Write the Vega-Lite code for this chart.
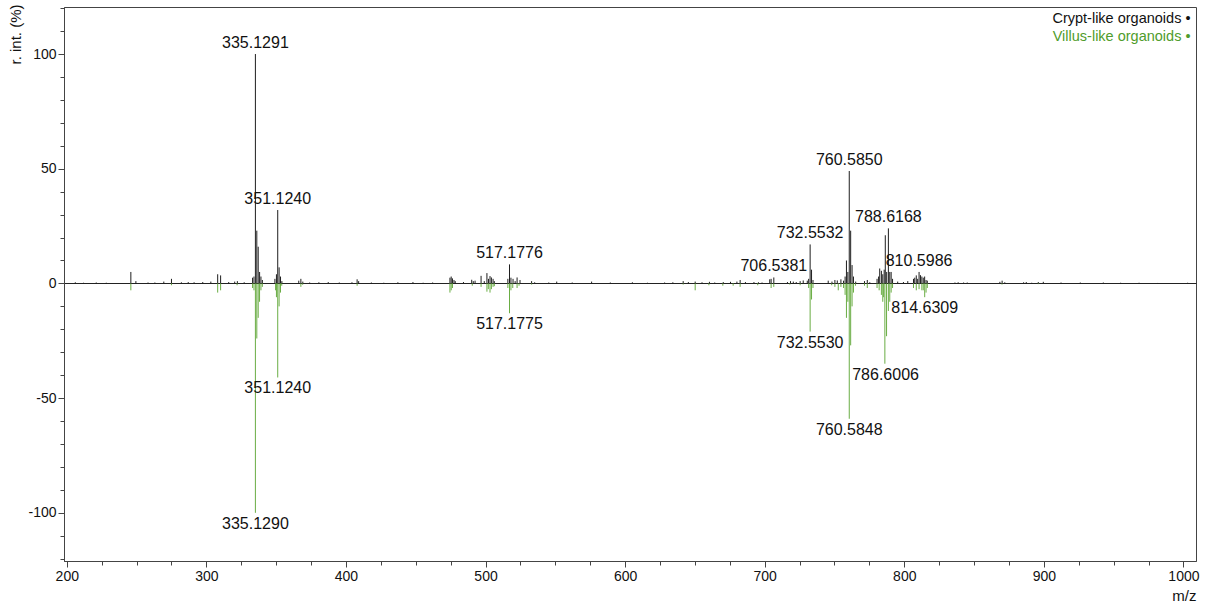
{
  "$schema": "https://vega.github.io/schema/vega-lite/v6.json",
  "autosize": {"type": "none"},
  "width": 1132,
  "height": 554,
  "padding": {"left": 64, "top": 7, "right": 10, "bottom": 45},
  "background": "white",
  "config": {
    "view": {"stroke": "#444444", "strokeWidth": 1},
    "font": "Liberation Sans",
    "axis": {
      "labelFont": "Liberation Sans",
      "titleFont": "Liberation Sans",
      "labelColor": "#111111",
      "titleColor": "#111111",
      "domainColor": "#444444",
      "tickColor": "#444444",
      "labelFontSize": 14,
      "titleFontSize": 15,
      "titleFontWeight": "normal"
    }
  },
  "datasets": {
    "peaks": [
      {"mz": 206.1, "intensity": 0.5, "series": "Crypt-like organoids"},
      {"mz": 212.0, "intensity": 0.3, "series": "Crypt-like organoids"},
      {"mz": 221.1, "intensity": 0.4, "series": "Crypt-like organoids"},
      {"mz": 228.3, "intensity": 0.3, "series": "Crypt-like organoids"},
      {"mz": 245.9, "intensity": 5.0, "series": "Crypt-like organoids"},
      {"mz": 249.5, "intensity": 1.0, "series": "Crypt-like organoids"},
      {"mz": 258.2, "intensity": 0.4, "series": "Crypt-like organoids"},
      {"mz": 263.1, "intensity": 0.4, "series": "Crypt-like organoids"},
      {"mz": 269.5, "intensity": 0.8, "series": "Crypt-like organoids"},
      {"mz": 275.0, "intensity": 2.0, "series": "Crypt-like organoids"},
      {"mz": 282.1, "intensity": 0.5, "series": "Crypt-like organoids"},
      {"mz": 287.0, "intensity": 0.6, "series": "Crypt-like organoids"},
      {"mz": 291.2, "intensity": 0.5, "series": "Crypt-like organoids"},
      {"mz": 297.4, "intensity": 0.6, "series": "Crypt-like organoids"},
      {"mz": 303.2, "intensity": 0.8, "series": "Crypt-like organoids"},
      {"mz": 308.1, "intensity": 4.0, "series": "Crypt-like organoids"},
      {"mz": 310.2, "intensity": 3.5, "series": "Crypt-like organoids"},
      {"mz": 316.0, "intensity": 0.6, "series": "Crypt-like organoids"},
      {"mz": 320.3, "intensity": 0.8, "series": "Crypt-like organoids"},
      {"mz": 322.2, "intensity": 1.0, "series": "Crypt-like organoids"},
      {"mz": 327.1, "intensity": 0.5, "series": "Crypt-like organoids"},
      {"mz": 333.1, "intensity": 2.5, "series": "Crypt-like organoids"},
      {"mz": 334.1, "intensity": 3.0, "series": "Crypt-like organoids"},
      {"mz": 335.1291, "intensity": 100, "series": "Crypt-like organoids"},
      {"mz": 336.13, "intensity": 23, "series": "Crypt-like organoids"},
      {"mz": 337.13, "intensity": 16, "series": "Crypt-like organoids"},
      {"mz": 338.13, "intensity": 5, "series": "Crypt-like organoids"},
      {"mz": 339.1, "intensity": 3, "series": "Crypt-like organoids"},
      {"mz": 340.1, "intensity": 1.5, "series": "Crypt-like organoids"},
      {"mz": 349.1, "intensity": 2, "series": "Crypt-like organoids"},
      {"mz": 350.2, "intensity": 4, "series": "Crypt-like organoids"},
      {"mz": 351.124, "intensity": 32, "series": "Crypt-like organoids"},
      {"mz": 352.12, "intensity": 7, "series": "Crypt-like organoids"},
      {"mz": 353.12, "intensity": 3, "series": "Crypt-like organoids"},
      {"mz": 354.1, "intensity": 1, "series": "Crypt-like organoids"},
      {"mz": 366.2, "intensity": 1.2, "series": "Crypt-like organoids"},
      {"mz": 367.7, "intensity": 2.0, "series": "Crypt-like organoids"},
      {"mz": 369.1, "intensity": 0.8, "series": "Crypt-like organoids"},
      {"mz": 374.0, "intensity": 0.4, "series": "Crypt-like organoids"},
      {"mz": 380.6, "intensity": 0.5, "series": "Crypt-like organoids"},
      {"mz": 387.3, "intensity": 0.6, "series": "Crypt-like organoids"},
      {"mz": 395.2, "intensity": 0.4, "series": "Crypt-like organoids"},
      {"mz": 404.3, "intensity": 0.5, "series": "Crypt-like organoids"},
      {"mz": 408.0, "intensity": 1.8, "series": "Crypt-like organoids"},
      {"mz": 409.1, "intensity": 1.0, "series": "Crypt-like organoids"},
      {"mz": 418.2, "intensity": 0.4, "series": "Crypt-like organoids"},
      {"mz": 427.1, "intensity": 0.3, "series": "Crypt-like organoids"},
      {"mz": 437.2, "intensity": 0.5, "series": "Crypt-like organoids"},
      {"mz": 448.0, "intensity": 0.6, "series": "Crypt-like organoids"},
      {"mz": 455.3, "intensity": 0.3, "series": "Crypt-like organoids"},
      {"mz": 462.1, "intensity": 0.4, "series": "Crypt-like organoids"},
      {"mz": 474.5, "intensity": 2.5, "series": "Crypt-like organoids"},
      {"mz": 475.4, "intensity": 3.0, "series": "Crypt-like organoids"},
      {"mz": 476.3, "intensity": 2.2, "series": "Crypt-like organoids"},
      {"mz": 477.4, "intensity": 1.5, "series": "Crypt-like organoids"},
      {"mz": 478.3, "intensity": 1.0, "series": "Crypt-like organoids"},
      {"mz": 484.2, "intensity": 0.6, "series": "Crypt-like organoids"},
      {"mz": 490.1, "intensity": 1.6, "series": "Crypt-like organoids"},
      {"mz": 491.2, "intensity": 1.0, "series": "Crypt-like organoids"},
      {"mz": 492.5, "intensity": 1.2, "series": "Crypt-like organoids"},
      {"mz": 496.8, "intensity": 3.3, "series": "Crypt-like organoids"},
      {"mz": 499.1, "intensity": 1.0, "series": "Crypt-like organoids"},
      {"mz": 501.0, "intensity": 4.5, "series": "Crypt-like organoids"},
      {"mz": 502.1, "intensity": 2.0, "series": "Crypt-like organoids"},
      {"mz": 503.2, "intensity": 3.2, "series": "Crypt-like organoids"},
      {"mz": 504.2, "intensity": 2.6, "series": "Crypt-like organoids"},
      {"mz": 505.4, "intensity": 2.0, "series": "Crypt-like organoids"},
      {"mz": 506.3, "intensity": 1.0, "series": "Crypt-like organoids"},
      {"mz": 516.0, "intensity": 2.0, "series": "Crypt-like organoids"},
      {"mz": 517.1776, "intensity": 8.3, "series": "Crypt-like organoids"},
      {"mz": 518.2, "intensity": 2.5, "series": "Crypt-like organoids"},
      {"mz": 519.7, "intensity": 2.0, "series": "Crypt-like organoids"},
      {"mz": 521.2, "intensity": 1.0, "series": "Crypt-like organoids"},
      {"mz": 522.6, "intensity": 2.6, "series": "Crypt-like organoids"},
      {"mz": 524.7, "intensity": 1.5, "series": "Crypt-like organoids"},
      {"mz": 533.0, "intensity": 1.0, "series": "Crypt-like organoids"},
      {"mz": 535.2, "intensity": 0.5, "series": "Crypt-like organoids"},
      {"mz": 545.3, "intensity": 0.4, "series": "Crypt-like organoids"},
      {"mz": 551.0, "intensity": 0.8, "series": "Crypt-like organoids"},
      {"mz": 562.1, "intensity": 0.4, "series": "Crypt-like organoids"},
      {"mz": 576.0, "intensity": 0.8, "series": "Crypt-like organoids"},
      {"mz": 589.4, "intensity": 0.4, "series": "Crypt-like organoids"},
      {"mz": 605.2, "intensity": 0.5, "series": "Crypt-like organoids"},
      {"mz": 616.0, "intensity": 0.3, "series": "Crypt-like organoids"},
      {"mz": 628.3, "intensity": 0.4, "series": "Crypt-like organoids"},
      {"mz": 634.2, "intensity": 0.5, "series": "Crypt-like organoids"},
      {"mz": 641.6, "intensity": 1.0, "series": "Crypt-like organoids"},
      {"mz": 645.3, "intensity": 0.6, "series": "Crypt-like organoids"},
      {"mz": 650.2, "intensity": 0.8, "series": "Crypt-like organoids"},
      {"mz": 655.1, "intensity": 0.5, "series": "Crypt-like organoids"},
      {"mz": 660.4, "intensity": 0.7, "series": "Crypt-like organoids"},
      {"mz": 664.2, "intensity": 0.4, "series": "Crypt-like organoids"},
      {"mz": 670.3, "intensity": 0.6, "series": "Crypt-like organoids"},
      {"mz": 675.5, "intensity": 0.7, "series": "Crypt-like organoids"},
      {"mz": 680.1, "intensity": 0.8, "series": "Crypt-like organoids"},
      {"mz": 682.4, "intensity": 1.5, "series": "Crypt-like organoids"},
      {"mz": 686.2, "intensity": 0.6, "series": "Crypt-like organoids"},
      {"mz": 692.3, "intensity": 0.6, "series": "Crypt-like organoids"},
      {"mz": 695.5, "intensity": 0.5, "series": "Crypt-like organoids"},
      {"mz": 698.1, "intensity": 0.4, "series": "Crypt-like organoids"},
      {"mz": 703.6, "intensity": 1.8, "series": "Crypt-like organoids"},
      {"mz": 704.6, "intensity": 2.0, "series": "Crypt-like organoids"},
      {"mz": 706.5381, "intensity": 2.6, "series": "Crypt-like organoids"},
      {"mz": 716.3, "intensity": 0.6, "series": "Crypt-like organoids"},
      {"mz": 718.5, "intensity": 1.0, "series": "Crypt-like organoids"},
      {"mz": 720.5, "intensity": 0.8, "series": "Crypt-like organoids"},
      {"mz": 722.6, "intensity": 0.6, "series": "Crypt-like organoids"},
      {"mz": 725.4, "intensity": 1.0, "series": "Crypt-like organoids"},
      {"mz": 727.6, "intensity": 1.3, "series": "Crypt-like organoids"},
      {"mz": 730.5, "intensity": 1.2, "series": "Crypt-like organoids"},
      {"mz": 731.5, "intensity": 2.0, "series": "Crypt-like organoids"},
      {"mz": 732.5532, "intensity": 17, "series": "Crypt-like organoids"},
      {"mz": 733.56, "intensity": 6, "series": "Crypt-like organoids"},
      {"mz": 734.6, "intensity": 1.5, "series": "Crypt-like organoids"},
      {"mz": 745.5, "intensity": 1.2, "series": "Crypt-like organoids"},
      {"mz": 748.2, "intensity": 0.8, "series": "Crypt-like organoids"},
      {"mz": 750.3, "intensity": 1.5, "series": "Crypt-like organoids"},
      {"mz": 752.0, "intensity": 1.3, "series": "Crypt-like organoids"},
      {"mz": 754.6, "intensity": 1.8, "series": "Crypt-like organoids"},
      {"mz": 756.5, "intensity": 1.2, "series": "Crypt-like organoids"},
      {"mz": 757.6, "intensity": 3, "series": "Crypt-like organoids"},
      {"mz": 758.57, "intensity": 10, "series": "Crypt-like organoids"},
      {"mz": 759.58, "intensity": 5, "series": "Crypt-like organoids"},
      {"mz": 760.585, "intensity": 49, "series": "Crypt-like organoids"},
      {"mz": 761.59, "intensity": 23, "series": "Crypt-like organoids"},
      {"mz": 762.6, "intensity": 8, "series": "Crypt-like organoids"},
      {"mz": 763.6, "intensity": 3, "series": "Crypt-like organoids"},
      {"mz": 765.2, "intensity": 0.8, "series": "Crypt-like organoids"},
      {"mz": 771.5, "intensity": 1.0, "series": "Crypt-like organoids"},
      {"mz": 773.5, "intensity": 1.5, "series": "Crypt-like organoids"},
      {"mz": 775.3, "intensity": 0.5, "series": "Crypt-like organoids"},
      {"mz": 780.5, "intensity": 2.0, "series": "Crypt-like organoids"},
      {"mz": 781.6, "intensity": 3, "series": "Crypt-like organoids"},
      {"mz": 782.4, "intensity": 6.5, "series": "Crypt-like organoids"},
      {"mz": 783.6, "intensity": 5.5, "series": "Crypt-like organoids"},
      {"mz": 784.6, "intensity": 4, "series": "Crypt-like organoids"},
      {"mz": 785.6, "intensity": 6, "series": "Crypt-like organoids"},
      {"mz": 786.4, "intensity": 21, "series": "Crypt-like organoids"},
      {"mz": 787.4, "intensity": 5, "series": "Crypt-like organoids"},
      {"mz": 788.6168, "intensity": 24, "series": "Crypt-like organoids"},
      {"mz": 789.6, "intensity": 5, "series": "Crypt-like organoids"},
      {"mz": 790.6, "intensity": 5, "series": "Crypt-like organoids"},
      {"mz": 791.6, "intensity": 2, "series": "Crypt-like organoids"},
      {"mz": 795.3, "intensity": 0.8, "series": "Crypt-like organoids"},
      {"mz": 799.4, "intensity": 0.6, "series": "Crypt-like organoids"},
      {"mz": 802.5, "intensity": 1.0, "series": "Crypt-like organoids"},
      {"mz": 806.6, "intensity": 2.0, "series": "Crypt-like organoids"},
      {"mz": 807.5, "intensity": 2.5, "series": "Crypt-like organoids"},
      {"mz": 808.6, "intensity": 3.5, "series": "Crypt-like organoids"},
      {"mz": 809.6, "intensity": 2.0, "series": "Crypt-like organoids"},
      {"mz": 810.5986, "intensity": 5.0, "series": "Crypt-like organoids"},
      {"mz": 811.6, "intensity": 3.6, "series": "Crypt-like organoids"},
      {"mz": 812.6, "intensity": 3.0, "series": "Crypt-like organoids"},
      {"mz": 813.6, "intensity": 2.5, "series": "Crypt-like organoids"},
      {"mz": 814.6, "intensity": 3.0, "series": "Crypt-like organoids"},
      {"mz": 815.6, "intensity": 1.5, "series": "Crypt-like organoids"},
      {"mz": 816.5, "intensity": 1.2, "series": "Crypt-like organoids"},
      {"mz": 836.3, "intensity": 0.4, "series": "Crypt-like organoids"},
      {"mz": 838.6, "intensity": 0.5, "series": "Crypt-like organoids"},
      {"mz": 842.5, "intensity": 0.4, "series": "Crypt-like organoids"},
      {"mz": 845.1, "intensity": 0.4, "series": "Crypt-like organoids"},
      {"mz": 868.5, "intensity": 0.7, "series": "Crypt-like organoids"},
      {"mz": 870.1, "intensity": 1.2, "series": "Crypt-like organoids"},
      {"mz": 872.0, "intensity": 0.5, "series": "Crypt-like organoids"},
      {"mz": 885.5, "intensity": 0.5, "series": "Crypt-like organoids"},
      {"mz": 887.4, "intensity": 0.6, "series": "Crypt-like organoids"},
      {"mz": 891.3, "intensity": 0.3, "series": "Crypt-like organoids"},
      {"mz": 896.0, "intensity": 0.6, "series": "Crypt-like organoids"},
      {"mz": 899.6, "intensity": 0.7, "series": "Crypt-like organoids"},
      {"mz": 912.3, "intensity": 0.4, "series": "Crypt-like organoids"},
      {"mz": 926.1, "intensity": 0.4, "series": "Crypt-like organoids"},
      {"mz": 942.6, "intensity": 0.4, "series": "Crypt-like organoids"},
      {"mz": 955.0, "intensity": 0.3, "series": "Crypt-like organoids"},
      {"mz": 968.2, "intensity": 0.3, "series": "Crypt-like organoids"},
      {"mz": 981.5, "intensity": 0.2, "series": "Crypt-like organoids"},
      {"mz": 1003.0, "intensity": 0.3, "series": "Crypt-like organoids"},
      {"mz": 245.9, "intensity": -3, "series": "Villus-like organoids"},
      {"mz": 275.0, "intensity": -0.8, "series": "Villus-like organoids"},
      {"mz": 308.1, "intensity": -4, "series": "Villus-like organoids"},
      {"mz": 310.2, "intensity": -3, "series": "Villus-like organoids"},
      {"mz": 322.0, "intensity": -0.8, "series": "Villus-like organoids"},
      {"mz": 333.1, "intensity": -2, "series": "Villus-like organoids"},
      {"mz": 334.1, "intensity": -3, "series": "Villus-like organoids"},
      {"mz": 335.129, "intensity": -100, "series": "Villus-like organoids"},
      {"mz": 336.13, "intensity": -24, "series": "Villus-like organoids"},
      {"mz": 337.13, "intensity": -15, "series": "Villus-like organoids"},
      {"mz": 338.1, "intensity": -8, "series": "Villus-like organoids"},
      {"mz": 339.1, "intensity": -3, "series": "Villus-like organoids"},
      {"mz": 340.1, "intensity": -1.5, "series": "Villus-like organoids"},
      {"mz": 349.6, "intensity": -3, "series": "Villus-like organoids"},
      {"mz": 350.2, "intensity": -6, "series": "Villus-like organoids"},
      {"mz": 351.124, "intensity": -41, "series": "Villus-like organoids"},
      {"mz": 352.1, "intensity": -10, "series": "Villus-like organoids"},
      {"mz": 353.1, "intensity": -4, "series": "Villus-like organoids"},
      {"mz": 354.0, "intensity": -1, "series": "Villus-like organoids"},
      {"mz": 367.7, "intensity": -1.5, "series": "Villus-like organoids"},
      {"mz": 369.0, "intensity": -0.6, "series": "Villus-like organoids"},
      {"mz": 408.0, "intensity": -1, "series": "Villus-like organoids"},
      {"mz": 474.5, "intensity": -4, "series": "Villus-like organoids"},
      {"mz": 475.4, "intensity": -3, "series": "Villus-like organoids"},
      {"mz": 476.3, "intensity": -2, "series": "Villus-like organoids"},
      {"mz": 490.5, "intensity": -1, "series": "Villus-like organoids"},
      {"mz": 496.8, "intensity": -1.5, "series": "Villus-like organoids"},
      {"mz": 501.0, "intensity": -3.6, "series": "Villus-like organoids"},
      {"mz": 502.0, "intensity": -2.5, "series": "Villus-like organoids"},
      {"mz": 503.2, "intensity": -4, "series": "Villus-like organoids"},
      {"mz": 504.2, "intensity": -2.5, "series": "Villus-like organoids"},
      {"mz": 505.4, "intensity": -1.5, "series": "Villus-like organoids"},
      {"mz": 506.3, "intensity": -1.2, "series": "Villus-like organoids"},
      {"mz": 516.0, "intensity": -2, "series": "Villus-like organoids"},
      {"mz": 517.1775, "intensity": -13, "series": "Villus-like organoids"},
      {"mz": 518.2, "intensity": -3, "series": "Villus-like organoids"},
      {"mz": 519.5, "intensity": -2, "series": "Villus-like organoids"},
      {"mz": 522.6, "intensity": -2, "series": "Villus-like organoids"},
      {"mz": 524.0, "intensity": -1, "series": "Villus-like organoids"},
      {"mz": 533.0, "intensity": -0.5, "series": "Villus-like organoids"},
      {"mz": 641.6, "intensity": -0.5, "series": "Villus-like organoids"},
      {"mz": 650.2, "intensity": -3, "series": "Villus-like organoids"},
      {"mz": 660.0, "intensity": -0.8, "series": "Villus-like organoids"},
      {"mz": 670.0, "intensity": -1, "series": "Villus-like organoids"},
      {"mz": 677.4, "intensity": -1, "series": "Villus-like organoids"},
      {"mz": 682.4, "intensity": -1.5, "series": "Villus-like organoids"},
      {"mz": 695.0, "intensity": -0.8, "series": "Villus-like organoids"},
      {"mz": 704.6, "intensity": -2, "series": "Villus-like organoids"},
      {"mz": 706.5, "intensity": -1.5, "series": "Villus-like organoids"},
      {"mz": 718.0, "intensity": -0.5, "series": "Villus-like organoids"},
      {"mz": 725.4, "intensity": -0.8, "series": "Villus-like organoids"},
      {"mz": 731.5, "intensity": -2, "series": "Villus-like organoids"},
      {"mz": 732.553, "intensity": -21, "series": "Villus-like organoids"},
      {"mz": 733.56, "intensity": -7, "series": "Villus-like organoids"},
      {"mz": 734.6, "intensity": -2, "series": "Villus-like organoids"},
      {"mz": 748.0, "intensity": -0.8, "series": "Villus-like organoids"},
      {"mz": 750.3, "intensity": -1.5, "series": "Villus-like organoids"},
      {"mz": 752.7, "intensity": -3, "series": "Villus-like organoids"},
      {"mz": 754.6, "intensity": -1.5, "series": "Villus-like organoids"},
      {"mz": 756.5, "intensity": -2, "series": "Villus-like organoids"},
      {"mz": 757.6, "intensity": -5, "series": "Villus-like organoids"},
      {"mz": 758.57, "intensity": -15, "series": "Villus-like organoids"},
      {"mz": 759.58, "intensity": -8, "series": "Villus-like organoids"},
      {"mz": 760.5848, "intensity": -59, "series": "Villus-like organoids"},
      {"mz": 761.59, "intensity": -27, "series": "Villus-like organoids"},
      {"mz": 762.6, "intensity": -10, "series": "Villus-like organoids"},
      {"mz": 763.6, "intensity": -4, "series": "Villus-like organoids"},
      {"mz": 765.0, "intensity": -1, "series": "Villus-like organoids"},
      {"mz": 771.5, "intensity": -1, "series": "Villus-like organoids"},
      {"mz": 773.5, "intensity": -2, "series": "Villus-like organoids"},
      {"mz": 780.5, "intensity": -2, "series": "Villus-like organoids"},
      {"mz": 782.0, "intensity": -3, "series": "Villus-like organoids"},
      {"mz": 783.6, "intensity": -5, "series": "Villus-like organoids"},
      {"mz": 784.6, "intensity": -8, "series": "Villus-like organoids"},
      {"mz": 785.2, "intensity": -6, "series": "Villus-like organoids"},
      {"mz": 786.1, "intensity": -35, "series": "Villus-like organoids"},
      {"mz": 787.3, "intensity": -23, "series": "Villus-like organoids"},
      {"mz": 788.6, "intensity": -12, "series": "Villus-like organoids"},
      {"mz": 789.6, "intensity": -8, "series": "Villus-like organoids"},
      {"mz": 790.6, "intensity": -4, "series": "Villus-like organoids"},
      {"mz": 791.6, "intensity": -2, "series": "Villus-like organoids"},
      {"mz": 806.6, "intensity": -2, "series": "Villus-like organoids"},
      {"mz": 808.6, "intensity": -3, "series": "Villus-like organoids"},
      {"mz": 810.6, "intensity": -2.5, "series": "Villus-like organoids"},
      {"mz": 812.6, "intensity": -3, "series": "Villus-like organoids"},
      {"mz": 813.6, "intensity": -3, "series": "Villus-like organoids"},
      {"mz": 814.6309, "intensity": -6, "series": "Villus-like organoids"},
      {"mz": 815.6, "intensity": -4, "series": "Villus-like organoids"},
      {"mz": 816.5, "intensity": -2, "series": "Villus-like organoids"},
      {"mz": 870.0, "intensity": -0.5, "series": "Villus-like organoids"},
      {"mz": 896.0, "intensity": -0.3, "series": "Villus-like organoids"}
    ],
    "labelsTop": [
      {"mz": 335.1291, "intensity": 100, "label": "335.1291"},
      {"mz": 351.124, "intensity": 32, "label": "351.1240"},
      {"mz": 517.1776, "intensity": 8.3, "label": "517.1776"},
      {"mz": 706.5381, "intensity": 2.6, "label": "706.5381"},
      {"mz": 732.5532, "intensity": 17, "label": "732.5532"},
      {"mz": 760.585, "intensity": 49, "label": "760.5850"},
      {"mz": 788.6168, "intensity": 24, "label": "788.6168"},
      {"mz": 810.5986, "intensity": 5, "label": "810.5986"}
    ],
    "labelsBottom": [
      {"mz": 335.129, "intensity": -100, "label": "335.1290"},
      {"mz": 351.124, "intensity": -41, "label": "351.1240"},
      {"mz": 517.1775, "intensity": -13, "label": "517.1775"},
      {"mz": 732.553, "intensity": -21, "label": "732.5530"},
      {"mz": 760.5848, "intensity": -59, "label": "760.5848"},
      {"mz": 786.6006, "intensity": -35, "label": "786.6006"},
      {"mz": 814.6309, "intensity": -6, "label": "814.6309"}
    ]
  },
  "encoding": {
    "x": {
      "field": "mz",
      "type": "quantitative",
      "scale": {"domain": [198, 1009], "nice": false, "zero": false},
      "axis": {
        "title": "m/z",
        "titleAnchor": "end",
        "titleAlign": "right",
        "titleBaseline": "top",
        "titleX": 1132,
        "titleY": 27,
        "grid": false,
        "values": [200, 225, 250, 275, 300, 325, 350, 375, 400, 425, 450, 475, 500, 525, 550, 575, 600, 625, 650, 675, 700, 725, 750, 775, 800, 825, 850, 875, 900, 925, 950, 975, 1000],
        "labelExpr": "datum.value % 100 === 0 ? toString(datum.value) : ''",
        "tickSize": {"condition": {"test": "datum.value % 100 === 0", "value": 6}, "value": 4},
        "labelPadding": 2,
        "labelFlush": false,
        "labelOverlap": false
      }
    },
    "y": {
      "field": "intensity",
      "type": "quantitative",
      "scale": {"domain": [-121, 120.5], "nice": false, "zero": false},
      "axis": {
        "title": "r. int. (%)",
        "titleAnchor": "end",
        "titleAngle": -90,
        "titleAlign": "right",
        "titleBaseline": "middle",
        "titleX": -49,
        "titleY": -3,
        "values": [-120, -110, -100, -90, -80, -70, -60, -50, -40, -30, -20, -10, 0, 10, 20, 30, 40, 50, 60, 70, 80, 90, 100, 110, 120],
        "labelExpr": "datum.value % 50 === 0 ? toString(datum.value) : ''",
        "tickSize": {"condition": {"test": "datum.value % 50 === 0", "value": 6}, "value": 4},
        "grid": true,
        "gridColor": "#222222",
        "gridOpacity": {"condition": {"test": "datum.value === 0", "value": 1}, "value": 0},
        "labelPadding": 2,
        "labelOverlap": false
      }
    }
  },
  "layer": [
    {
      "data": {"name": "peaks"},
      "mark": {"type": "rule", "strokeWidth": 1},
      "encoding": {
        "y2": {"datum": 0},
        "color": {
          "field": "series",
          "type": "nominal",
          "scale": {"domain": ["Crypt-like organoids", "Villus-like organoids"], "range": ["#1e1e1e", "#6aad44"]},
          "legend": {
            "title": null,
            "orient": "top-right",
            "offset": 5,
            "labelExpr": "datum.label + ' \u2022'",
            "labelFont": "Liberation Sans",
            "labelFontSize": 14.5,
            "labelAlign": "right",
            "labelOffset": -2,
            "symbolSize": 0,
            "symbolOpacity": 0,
            "symbolStrokeWidth": 0,
            "rowPadding": 3,
            "encode": {
              "labels": {
                "update": {
                  "fill": {"signal": "datum.value === 'Villus-like organoids' ? '#4f9c2c' : '#111111'"}
                }
              }
            }
          }
        }
      }
    },
    {
      "data": {"name": "labelsTop"},
      "mark": {"type": "text", "baseline": "bottom", "align": "center", "dy": -3, "fontSize": 16, "font": "Liberation Sans", "color": "#111111"},
      "encoding": {
        "text": {"field": "label"}
      }
    },
    {
      "data": {"name": "labelsBottom"},
      "mark": {"type": "text", "baseline": "top", "align": "center", "dy": 3, "fontSize": 16, "font": "Liberation Sans", "color": "#111111"},
      "encoding": {
        "text": {"field": "label"}
      }
    }
  ]
}
